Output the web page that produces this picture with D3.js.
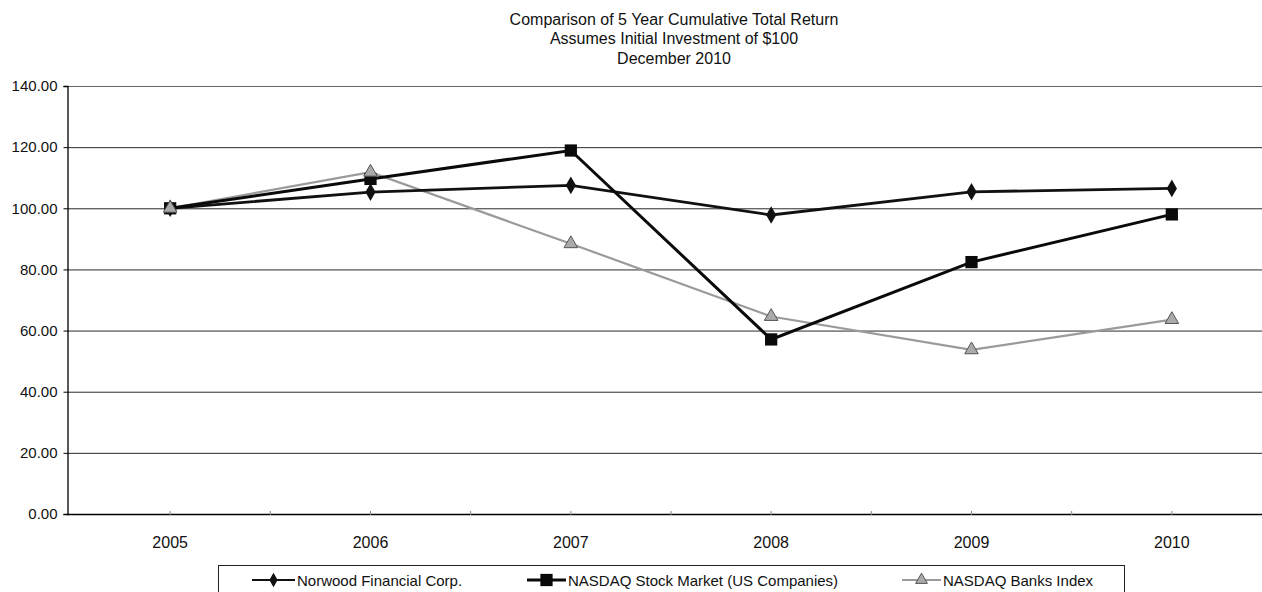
<!DOCTYPE html>
<html><head><meta charset="utf-8">
<script src="https://cdn.jsdelivr.net/npm/d3@7"></script>
<style>
html,body{margin:0;padding:0;background:#fff;}
svg{display:block;font-family:"Liberation Sans",Arial,sans-serif;}
</style></head>
<body>
<svg id="c" width="1262" height="592"></svg>
<script>
const titleLines = ["Comparison of 5 Year Cumulative Total Return","Assumes Initial Investment of $100","December 2010"];
const years = ["2005","2006","2007","2008","2009","2010"];
const norwood = [100.00,105.3,107.5,97.8,105.4,106.5];
const nasdaqMarket = [100.00,109.6,118.9,57.1,82.4,98.0];
const nasdaqBanks = [100.00,111.8,88.4,64.6,53.7,63.6];
const yTicks = [0,20,40,60,80,100,120,140];
const seriesNames = ["Norwood Financial Corp.","NASDAQ Stock Market (US Companies)","NASDAQ Banks Index"];

const svg = d3.select("#c");
const plotLeft = 67, plotRight = 1262, plotTop = 86, plotBottom = 514;
const FONT = "Liberation Sans, Arial, sans-serif";

const x = d3.scaleBand().domain(years).range([70, 1272]).padding(0);
const y = d3.scaleLinear().domain([0,140]).range([plotBottom, plotTop]);
const cx = d => x(d) + x.bandwidth()/2;

// title
svg.append("g").selectAll("text").data(titleLines).join("text")
  .attr("x", 674).attr("y", (d,i)=>24.5 + i*19.5)
  .attr("text-anchor","middle").attr("font-size",16).attr("fill","#111")
  .attr("font-family",FONT).text(d=>d);

// gridlines
svg.append("g").selectAll("line").data(yTicks.filter(t=>t>0)).join("line")
  .attr("x1", plotLeft).attr("x2", plotRight)
  .attr("y1", d=>y(d)+0.5).attr("y2", d=>y(d)+0.5)
  .attr("stroke", d=> d===140 ? "#666" : "#2a2a2a").attr("stroke-width",1);

// y axis
const yAxis = d3.axisLeft(y).tickValues(yTicks).tickFormat(d3.format(".2f")).tickSize(4).tickPadding(6);
const gy = svg.append("g").attr("transform",`translate(${plotLeft+0.5},0)`).call(yAxis);
gy.select(".domain").attr("stroke","#000").attr("stroke-width",1.3);
gy.selectAll("text").attr("font-size",15).attr("fill","#111").attr("font-family",FONT);
gy.selectAll(".tick line").attr("stroke","#000");

// x axis
const xAxis = d3.axisBottom(x).tickSize(0).tickPadding(22);
const gx = svg.append("g").attr("transform",`translate(0,${plotBottom+0.5})`).call(xAxis);
gx.select(".domain").attr("d", `M${plotLeft},0H${plotRight}`).attr("stroke","#000").attr("stroke-width",1.3);
gx.selectAll("text").attr("font-size",16).attr("fill","#111").attr("font-family",FONT);
const tickPos = [];
years.forEach(yr=>{ tickPos.push(x(yr)); tickPos.push(cx(yr)); });
svg.append("g").selectAll("line").data(tickPos.filter(p=>p>plotLeft+5 && p<plotRight)).join("line")
  .attr("x1",d=>d).attr("x2",d=>d).attr("y1",plotBottom-3).attr("y2",plotBottom+1)
  .attr("stroke","#888").attr("stroke-width",1);

const line = d3.line().x((d,i)=>cx(years[i])).y(d=>y(d));

svg.append("path").datum(nasdaqBanks).attr("d",line)
  .attr("fill","none").attr("stroke","#9a9a9a").attr("stroke-width",2.2);
svg.append("path").datum(norwood).attr("d",line)
  .attr("fill","none").attr("stroke","#111").attr("stroke-width",2.8);
svg.append("path").datum(nasdaqMarket).attr("d",line)
  .attr("fill","none").attr("stroke","#0a0a0a").attr("stroke-width",3);

const diamond = d3.symbol().type(d3.symbolDiamond).size(90);
const square = d3.symbol().type(d3.symbolSquare).size(150);
const tri = d3.symbol().type(d3.symbolTriangle).size(80);

svg.append("g").selectAll("path").data(norwood).join("path")
  .attr("d", diamond).attr("transform",(d,i)=>`translate(${cx(years[i])},${y(d)})`)
  .attr("fill","#111");
svg.append("g").selectAll("path").data(nasdaqMarket).join("path")
  .attr("d", square).attr("transform",(d,i)=>`translate(${cx(years[i])},${y(d)})`)
  .attr("fill","#0a0a0a");
svg.append("g").selectAll("path").data(nasdaqBanks).join("path")
  .attr("d", tri).attr("transform",(d,i)=>`translate(${cx(years[i])},${y(d)})`)
  .attr("fill","#aaa").attr("stroke","#555").attr("stroke-width",1);

// legend
svg.append("rect").attr("x",218.5).attr("y",565.5).attr("width",906).attr("height",40)
  .attr("fill","none").attr("stroke","#222").attr("stroke-width",1);
const legendItems = [
  {name:seriesNames[0], x1:252, x2:295, sym:d3.symbol().type(d3.symbolDiamond).size(60), color:"#111", w:2, fill:"#111", stroke:"none"},
  {name:seriesNames[1], x1:527, x2:566, sym:square, color:"#0a0a0a", w:3, fill:"#0a0a0a", stroke:"none"},
  {name:seriesNames[2], x1:902, x2:941, sym:d3.symbol().type(d3.symbolTriangle).size(60), color:"#9a9a9a", w:2, fill:"#aaa", stroke:"#555"}
];
const ly = 580;
const lg = svg.append("g").selectAll("g").data(legendItems).join("g");
lg.append("line").attr("x1",d=>d.x1).attr("x2",d=>d.x2).attr("y1",ly).attr("y2",ly)
  .attr("stroke",d=>d.color).attr("stroke-width",d=>d.w);
lg.append("path").attr("d",d=>d.sym()).attr("transform",d=>`translate(${(d.x1+d.x2)/2},${ly})`)
  .attr("fill",d=>d.fill).attr("stroke",d=>d.stroke);
lg.append("text").attr("x",d=>d.x2+2).attr("y",ly+5.5).attr("font-size",15).attr("fill","#111")
  .attr("font-family",FONT).text(d=>d.name);
</script>
</body></html>
